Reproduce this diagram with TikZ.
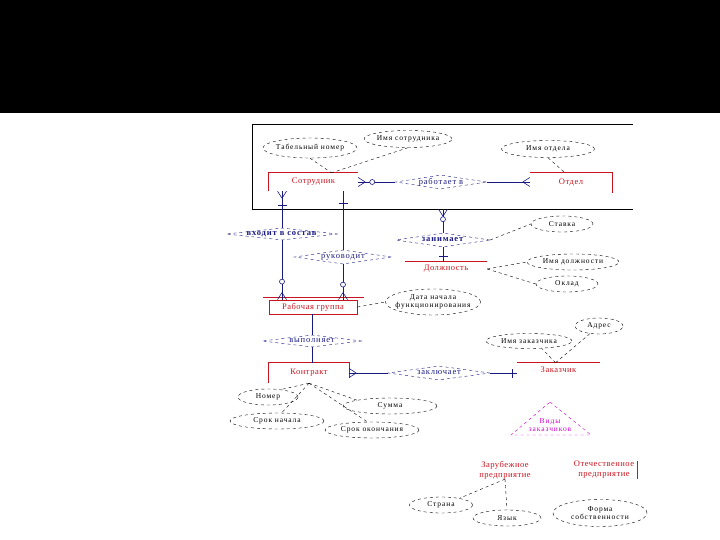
\documentclass[tikz,border=0pt]{standalone}
\usepackage{fontspec}
\setmainfont{Liberation Serif}
\newfontfamily\attrfont[LetterSpace=12]{Liberation Serif}
\newfontfamily\entfont[LetterSpace=6]{Liberation Serif}
\newfontfamily\relfont[LetterSpace=10]{Liberation Serif}
\usepackage{tikz}
\usetikzlibrary{shapes.geometric,positioning,calc,arrows.meta,decorations.markings}
\definecolor{entred}{RGB}{200,20,30}
\definecolor{relblue}{RGB}{25,25,130}
\definecolor{isamag}{RGB}{205,0,205}
\tikzstyle{ent} = [inner sep=0pt, text=entred, font=\entfont\fontsize{8.5}{10}\selectfont]
\tikzstyle{entline} = [draw=entred, line width=0.8pt]
\tikzstyle{attr} = [draw, ellipse, dashed, thin, inner xsep=-6pt, inner ysep=0pt, font=\attrfont\fontsize{7.5}{8.5}\selectfont]
\tikzstyle{rel} = [draw=relblue, diamond, dashed, thin, inner sep=0pt]
\tikzstyle{reltext} = [inner sep=0pt, text=relblue, font=\relfont\fontsize{8.5}{9.5}\selectfont]
\tikzstyle{link} = [draw=relblue, line width=0.7pt]
\tikzstyle{aline} = [dashed, thin]
\tikzset{
  crow/.style={postaction={decorate,decoration={markings,
    mark=at position 1 with {\draw[relblue,line width=0.6pt] (-7pt,0) -- (0,4.5pt) (-7pt,0) -- (0,-4.5pt);}}}},
  bar/.style={postaction={decorate,decoration={markings,
    mark=at position -#1 with {\draw[relblue,line width=0.7pt] (0,-4.5pt) -- (0,4.5pt);}}}},
  ring/.style={postaction={decorate,decoration={markings,
    mark=at position -#1 with {\draw[relblue,line width=0.6pt,fill=white] (0,0) circle (2.5pt);}}}}
}

\begin{document}
\begin{tikzpicture}[x=1pt,y=-1pt,node distance=4pt]
    \useasboundingbox (0,0) rectangle (720,540);
    \fill[black] (0,0) rectangle (720,113);

    % frame round Employee
    \node[minimum width=380pt, minimum height=84pt, inner sep=0pt] (frame) at (443,167) {};
    \draw[line width=0.9pt] (frame.north east) -- (frame.north west) -- (frame.south west) -- (frame.south east);

    % entities
    \node[ent, minimum width=89pt, minimum height=18pt] (sotr) at (313.5,182) {Сотрудник};
    \draw[entline] (sotr.south west) -- (sotr.north west) -- (sotr.north east);
    \node[ent, minimum width=82pt, minimum height=20pt] (otd) at (571,183) {Отдел};
    \draw[entline] (otd.north west) -- (otd.north east) -- (otd.south east);
    \node[ent, minimum width=82pt, minimum height=14pt] (dolzh) at (446,269) {Должность};
    \draw[entline] (dolzh.north west) -- (dolzh.north east);
    \node[ent, draw=entred, line width=0.8pt, minimum width=88pt, minimum height=14pt] (rg) at (313,307) {Рабочая группа};
    \draw[entline] ([xshift=-6pt,yshift=2pt]rg.north west) -- ([xshift=7pt,yshift=2pt]rg.north east);
    \node[ent, minimum width=80pt, minimum height=20pt] (kontr) at (309,373) {Контракт};
    \draw[entline] ([yshift=5pt]kontr.south east) -- (kontr.north east) -- (kontr.north west) -- (kontr.south west);
    \node[ent, minimum width=83pt, minimum height=14pt] (zakaz) at (558.5,370) {Заказчик};
    \draw[entline] (zakaz.north west) -- (zakaz.north east);
    \node[ent, align=center] (zarub) at (505,470) {Зарубежное\\предприятие};
    \node[ent, align=center] (otech) at (604,470) {Отечественное\\предприятие};
    \draw[entline] ([xshift=3pt]otech.north east) -- ([xshift=3pt]otech.south east);

    % relationships
    \node[rel, minimum width=91pt, minimum height=14pt, label={[reltext]center:работает в}] (rabv) at (441,182) {};
    \node[rel, minimum width=112pt, minimum height=12pt, label={[reltext]center:\textbf{входит в состав}}] (vs) at (282,234) {};
    \node[rel, minimum width=97pt, minimum height=14pt, label={[reltext]center:руководит}] (ruk) at (343,257) {};
    \node[rel, minimum width=94pt, minimum height=14pt, label={[reltext]center:\textbf{занимает}}] (zan) at (443,240) {};
    \node[rel, minimum width=100pt, minimum height=12pt, label={[reltext]center:выполняет}] (vyp) at (312,341) {};
    \node[rel, minimum width=102pt, minimum height=14pt, label={[reltext]center:заключает}] (zakl) at (439,373) {};

    % attributes
    \node[attr, minimum width=94pt, minimum height=20pt] (tabn) at (310,148) {Табельный номер};
    \node[attr, minimum width=88pt, minimum height=17pt] (imsot) at (408,139) {Имя сотрудника};
    \node[attr, minimum width=93pt, minimum height=17pt] (imotd) at (548,149) {Имя отдела};
    \node[attr, minimum width=62pt, minimum height=16pt] (stavka) at (562,224) {Ставка};
    \node[attr, minimum width=92pt, minimum height=16pt] (imdol) at (573,262) {Имя должности};
    \node[attr, minimum width=62pt, minimum height=16pt] (oklad) at (567,284) {Оклад};
    \node[attr, minimum width=95pt, minimum height=26pt, align=center] (datarg) at (433,302) {Дата начала\\функционирования};
    \node[attr, minimum width=48pt, minimum height=16pt] (adres) at (599,326) {Адрес};
    \node[attr, minimum width=86pt, minimum height=15pt] (imzak) at (529,341) {Имя заказчика};
    \node[attr, minimum width=60pt, minimum height=16pt] (nomer) at (268,397) {Номер};
    \node[attr, minimum width=94pt, minimum height=16pt] (summa) at (390,406) {Сумма};
    \node[attr, minimum width=94pt, minimum height=16pt] (srnach) at (277,421) {Срок начала};
    \node[attr, minimum width=94pt, minimum height=16pt] (srok) at (372,430) {Срок окончания};
    \node[attr, minimum width=63pt, minimum height=16pt] (strana) at (441,505) {Страна};
    \node[attr, minimum width=68pt, minimum height=16pt] (yazyk) at (507,518) {Язык};
    \node[attr, minimum width=94pt, minimum height=27pt, align=center] (forma) at (600,513) {Форма\\собственности};

    % kinds of customer
    \node[inner sep=0pt, align=center, text=isamag, font=\attrfont\fontsize{7.5}{8.5}\selectfont] (vid) at (550,425) {Виды\\заказчиков};
    \draw[isamag, dashed, thin] (550,402) -- (591,435) -- (511,435) -- cycle;

    % relationship links
    \draw[link, ring=14pt, crow] (rabv.west) -- (rabv.west -| sotr.east);
    \draw[link, crow] (rabv.east) -- (rabv.east -| otd.west);
    \draw[link, bar=14pt, crow] (vs.north) -- (vs.north |- sotr.south);
    \draw[link, ring=18pt, crow] (vs.south) -- (vs.south |- rg.north);
    \draw[link, bar=12pt] (ruk.north) -- (ruk.north |- sotr.south);
    \draw[link, ring=15pt, crow] (ruk.south) -- (ruk.south |- rg.north);
    \draw[link, ring=10pt, crow] (zan.north) -- (zan.north |- frame.south);
    \draw[link, bar=5pt] (zan.south) -- (zan.south |- dolzh.north);
    \draw[link] (vyp.north |- rg.south) -- (vyp.north);
    \draw[link] (vyp.south) -- (vyp.south |- kontr.north);
    \draw[link, crow] (zakl.west) -- (zakl.west -| kontr.east);
    \draw[link, bar=4pt] (zakl.east) -- (zakl.east -| zakaz.west);

    % attribute links
    \draw[aline] (tabn.south) -- ([xshift=18pt]sotr.north);
    \draw[aline] (imsot.south) -- ([xshift=18pt]sotr.north);
    \draw[aline] (imotd.south) -- ([xshift=-6pt]otd.north);
    \draw[aline] (zan.east) -- (stavka.west);
    \draw[aline] (dolzh.east) -- (imdol.west);
    \draw[aline] (dolzh.east) -- (oklad.west);
    \draw[aline] (rg.east) -- (datarg.west);
    \draw[aline] ([xshift=-3pt]zakaz.north) -- (imzak.-30);
    \draw[aline] ([xshift=-3pt]zakaz.north) -- (adres.220);
    \draw[aline] (kontr.south) -- (nomer.30);
    \draw[aline] (kontr.south) -- (summa.170);
    \draw[aline] (kontr.south) -- (srnach.60);
    \draw[aline] (kontr.south) -- (srok.120);
    \draw[aline] (zarub.south) -- (strana.20);
    \draw[aline] (zarub.south) -- (yazyk.north);
\end{tikzpicture}
\end{document}
